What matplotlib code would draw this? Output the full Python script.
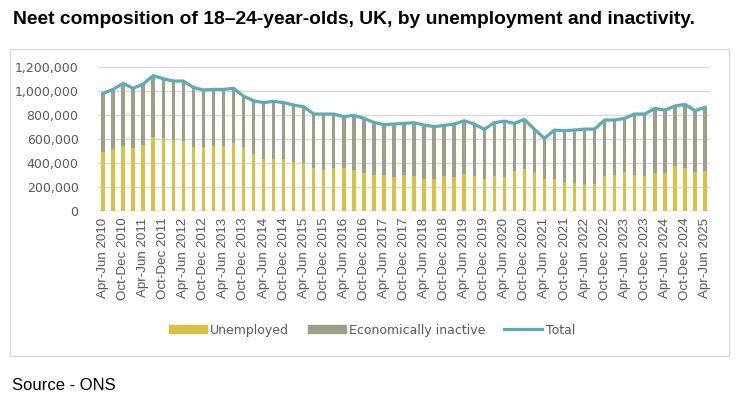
import numpy as np
import matplotlib.pyplot as plt
from matplotlib.patches import Rectangle
from matplotlib.lines import Line2D

# quarterly periods Apr-Jun 2010 .. Apr-Jun 2025
quarters = ["Apr-Jun", "Jul-Sep", "Oct-Dec", "Jan-Mar"]
periods = []
year = 2010
for i in range(61):
    q = quarters[i % 4]
    if q == "Jan-Mar":
        year += 1
    periods.append("%s %d" % (q, year))

total = [982000, 1015000, 1065000, 1024000, 1060000, 1130000, 1104000, 1085000,
         1085000, 1032000, 1010000, 1015000, 1015000, 1024000, 959000, 920000,
         904000, 915000, 904000, 884000, 870000, 809000, 809000, 809000,
         787000, 798000, 773000, 739000, 720000, 725000, 731000, 736000,
         717000, 703000, 714000, 725000, 753000, 725000, 681000, 736000,
         750000, 731000, 764000, 681000, 605000, 675000, 669000, 675000,
         683000, 683000, 759000, 759000, 773000, 809000, 809000, 856000,
         842000, 876000, 890000, 837000, 865000]
unemployed = [494000, 513000, 541000, 521000, 549000, 614000, 605000, 591000,
              583000, 530000, 530000, 541000, 541000, 563000, 530000, 474000,
              430000, 430000, 430000, 407000, 396000, 354000, 340000, 354000,
              354000, 340000, 312000, 298000, 298000, 279000, 298000, 290000,
              268000, 268000, 290000, 284000, 307000, 290000, 268000, 290000,
              279000, 332000, 346000, 312000, 268000, 268000, 243000, 234000,
              223000, 223000, 290000, 298000, 321000, 298000, 290000, 312000,
              312000, 374000, 354000, 321000, 332000]
inactive = [t - u for t, u in zip(total, unemployed)]

c_unemp = "#D9C143"
c_inact = "#9D9F86"
c_total = "#5AACB6"
c_text = "#595959"

fig = plt.figure(figsize=(7.5, 4.11), dpi=100)

# chart border and title rule
fig.patches.append(Rectangle((10 / 750, 1 - 356 / 411), 719 / 750, 307 / 411,
                             transform=fig.transFigure, fill=False,
                             edgecolor="#D9D9D9", linewidth=0.8))
fig.text(13 / 750, 1 - 20 / 411, "Neet composition of 18\u201324-year-olds, UK, by unemployment and inactivity.",
         fontsize=13.9, fontweight="bold", family="Liberation Sans",
         va="center", ha="left", color="black")
fig.text(12 / 750, 1 - 385 / 411, "Source - ONS", fontsize=12,
         family="Liberation Sans", va="center", ha="left", color="black")

ax = fig.add_axes([98 / 750, 1 - 210.7 / 411, 612 / 750, 143.4 / 411])
x = np.arange(len(periods))
ax.bar(x, unemployed, width=0.34, color=c_unemp, zorder=2)
ax.bar(x, inactive, width=0.34, bottom=unemployed, color=c_inact, zorder=2)
ax.plot(x, total, color=c_total, linewidth=2.3, zorder=3, solid_joinstyle="round")

ax.set_xlim(-0.5, len(periods) - 0.5)
ax.set_ylim(0, 1200000)
ax.set_yticks(np.arange(0, 1200001, 200000))
ax.set_yticklabels(["{:,}".format(v) for v in range(0, 1200001, 200000)],
                   fontsize=9, color=c_text, family="DejaVu Sans")
ax.set_xticks(x[::2])
ax.set_xticklabels(periods[::2], rotation=90, fontsize=9.6, color=c_text,
                   family="Liberation Sans")
ax.tick_params(length=0, pad=5)
ax.tick_params(axis="y", pad=14)
ax.grid(axis="y", color="#D9D9D9", linewidth=1, zorder=0)
for s in ax.spines.values():
    s.set_visible(False)
ax.axhline(0, color="#D9D9D9", linewidth=1, zorder=1)

handles = [Rectangle((0, 0), 1, 1, color=c_unemp),
           Rectangle((0, 0), 1, 1, color=c_inact),
           Line2D([0], [0], color=c_total, linewidth=2.3)]
fig.legend(handles, ["Unemployed", "Economically inactive", "Total"],
           loc="center", bbox_to_anchor=(372 / 750, 1 - 330 / 411), ncol=3,
           frameon=False, handlelength=3.0, handleheight=0.6, columnspacing=1.5,
           handletextpad=0.3, prop={"family": "DejaVu Sans", "size": 9},
           labelcolor=c_text)

fig.savefig("out.png", dpi=100)
